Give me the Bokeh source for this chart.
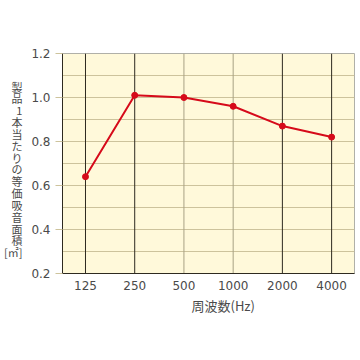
from bokeh.plotting import figure
from bokeh.models import Range1d, FixedTicker, Span, Title
from bokeh.embed import file_html
from bokeh.resources import INLINE

categories = ["125", "250", "500", "1000", "2000", "4000"]
values = [0.64, 1.01, 1.00, 0.96, 0.87, 0.82]
y_ticks = [0.2, 0.4, 0.6, 0.8, 1.0, 1.2]
y_grid = [0.2, 0.3, 0.4, 0.5, 0.6, 0.7, 0.8, 0.9, 1.0, 1.1, 1.2]
y_label_chars = ["製", "品", "1", "本", "当", "た", "り", "の", "等", "価", "吸", "音", "面", "積", "[㎡]"]
x_label = "周波数(Hz)"

xs = list(range(len(categories)))

p = figure(width=360, height=316, output_backend="svg", toolbar_location=None,
           x_range=Range1d(-0.467, 5.465), y_range=Range1d(0.2, 1.2),
           min_border_left=61, min_border_right=6, min_border_top=53, min_border_bottom=20)
p.border_fill_color = "white"
p.background_fill_color = "#fff9da"
p.outline_line_color = "#b0b0a8"
p.outline_line_width = 1

# grids
p.xgrid.visible = False
p.ygrid.ticker = FixedTicker(ticks=y_grid)
p.ygrid.grid_line_color = "#cdc39c"
p.ygrid.grid_line_width = 1

dark_idx = {0, 1, 4, 5}
for i in xs:
    p.add_layout(Span(location=i, dimension="height",
                      line_color="#2e2a20" if i in dark_idx else "#a8a284",
                      line_width=1, level="underlay"))

# axes
p.xaxis.ticker = FixedTicker(ticks=xs)
p.xaxis.major_label_overrides = {i: c for i, c in enumerate(categories)}
p.xaxis.major_tick_out = 0
p.xaxis.major_tick_in = 0
p.xaxis.minor_tick_out = 0
p.xaxis.minor_tick_in = 0
p.xaxis.axis_line_color = "#2e2a20"
p.xaxis.major_label_standoff = 7
p.yaxis.ticker = FixedTicker(ticks=y_ticks)
p.yaxis.major_label_overrides = {t: f"{t:.1f}" for t in y_ticks}
p.yaxis.major_tick_out = 7
p.yaxis.major_tick_in = 0
p.yaxis.minor_tick_out = 0
p.yaxis.minor_tick_in = 0
p.yaxis.major_tick_line_color = "#cdc39c"
p.yaxis.axis_line_color = "#2e2a20"
p.yaxis.major_label_standoff = 5
for ax in (p.xaxis, p.yaxis):
    ax.major_label_text_font = "DejaVu Sans"
    ax.major_label_text_font_size = "12px"
    ax.major_label_text_color = "#4a4a4a"

# stacked vertical y title (leading blank line nudges it down like the original)
p.yaxis.axis_label = "\n".join([" "] + y_label_chars)
p.yaxis.axis_label_orientation = "horizontal"
p.yaxis.axis_label_text_font = "Noto Sans CJK JP"
p.yaxis.axis_label_text_font_size = "11px"
p.yaxis.axis_label_text_font_style = "normal"
p.yaxis.axis_label_text_color = "#4a4a4a"
p.yaxis.axis_label_text_line_height = 0.74
p.yaxis.axis_label_standoff = 6

# x title, slightly right of the centre as in the original
p.add_layout(Title(text=x_label, align="left", offset=129, standoff=3,
                   text_font="Noto Sans CJK JP", text_font_size="13px",
                   text_font_style="normal", text_color="#4a4a4a"), "below")

# data
p.line(xs, values, line_color="#d60a1a", line_width=2)
p.scatter(xs, values, size=6, fill_color="#d60a1a", line_color="#d60a1a")

open("out.html", "w").write(file_html(p, INLINE))
